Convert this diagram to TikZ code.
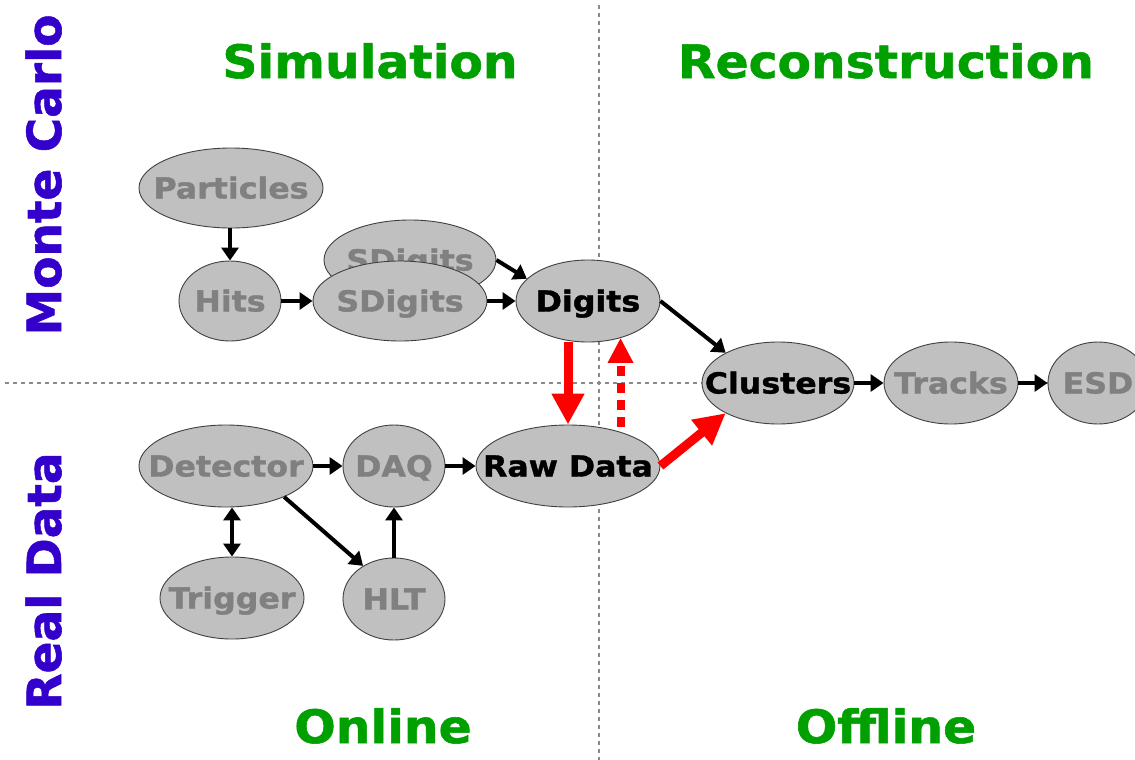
\documentclass[tikz,border=0pt]{standalone}
\usepackage{fontspec}
\setmainfont{DejaVu Sans}
\newfontfamily\heavyfont[BoldFeatures={FakeBold=1.2}]{DejaVu Sans}
\usetikzlibrary{shapes.geometric,arrows.meta}
\definecolor{ellfill}{HTML}{C0C0C0}
\definecolor{txtgrey}{HTML}{808080}
\definecolor{ttlgreen}{HTML}{00A000}
\definecolor{sideblue}{HTML}{3300CC}
\definecolor{arrred}{HTML}{FF0000}
\definecolor{sepgrey}{HTML}{8A8A8A}
\newcommand\nodetxt[1]{\makebox[0pt]{\scalebox{1.09}[1]{#1}}}
\newcommand\ttltxt[1]{\scalebox{1.06}[1]{#1}}
\tikzset{
  blob/.style={ellipse, draw=black!75, line width=0.9pt, fill=ellfill, inner sep=0pt,
    text height=21pt, text depth=0pt, font=\fontsize{29}{29}\selectfont\heavyfont\bfseries, text=txtgrey},
  hot/.style={text=black},
  flow/.style={draw=black, line width=4pt, -{Triangle[length=13pt,width=17pt]}},
  bothflow/.style={draw=black, line width=4pt, {Triangle[length=13pt,width=17pt]}-{Triangle[length=13pt,width=17pt]}},
  redflow/.style={draw=arrred, line width=9pt, -{Triangle[length=31pt,width=31pt]}},
  reddash/.style={draw=arrred, line width=8pt, dash pattern=on 10pt off 7pt, -{Triangle[length=25pt,width=24pt]}},
  sep/.style={draw=sepgrey, line width=1.3pt, dash pattern=on 4pt off 4pt},
  title/.style={font=\fontsize{46}{46}\selectfont\heavyfont\bfseries, text=ttlgreen, inner sep=0pt, anchor=base},
  side/.style={font=\fontsize{47}{47}\selectfont\heavyfont\bfseries, text=sideblue, inner sep=0pt, anchor=base, rotate=90},
}
\begin{document}
\begin{tikzpicture}[x=1pt,y=-1pt]
\useasboundingbox (0,0) rectangle (1135,760);
\clip (0,0) rectangle (1135,760);
\fill[white] (0,0) rectangle (1135,760);
% separators
\coordinate (vtop) at (599,5);
\coordinate (vbot) at (599,760);
\coordinate (hleft) at (5,383);
\coordinate (hright) at (1135,383);
\draw[sep] (vtop) -- (vbot);
\draw[sep] (hleft) -- (hright);
% titles
\node[title] (tsim) at (370,78) {\ttltxt{Simulation}};
\node[title] (trec) at (886,78) {\ttltxt{Reconstruction}};
\node[title] (tonl) at (383,743) {\ttltxt{Online}};
\node[title] (toff) at (886,743) {\ttltxt{Offline}};
\node[side] (tmc) at (61,175) {Monte Carlo};
\node[side] (trd) at (61,581) {Real Data};
% nodes
\node[blob, minimum width=184pt, minimum height=80pt] (par) at (231,188) {\nodetxt{Particles}};
\node[blob, minimum width=102pt, minimum height=80pt] (hit) at (230,301) {\nodetxt{Hits}};
\node[blob, minimum width=172pt, minimum height=80pt] (sdb) at (410,260) {\nodetxt{SDigits}};
\node[blob, minimum width=174pt, minimum height=80pt] (sdf) at (400,301) {\nodetxt{SDigits}};
\node[blob, hot, minimum width=144pt, minimum height=82pt] (dig) at (588,301) {\nodetxt{Digits}};
\node[blob, hot, minimum width=152pt, minimum height=82pt] (clu) at (778,383) {\nodetxt{Clusters}};
\node[blob, minimum width=134pt, minimum height=82pt] (trk) at (951,383) {\nodetxt{Tracks}};
\node[blob, minimum width=100pt, minimum height=82pt] (esd) at (1098,383) {\nodetxt{ESD}};
\node[blob, minimum width=174pt, minimum height=82pt] (det) at (226,466) {\nodetxt{Detector}};
\node[blob, minimum width=102pt, minimum height=82pt] (daq) at (394,466) {\nodetxt{DAQ}};
\node[blob, hot, minimum width=184pt, minimum height=82pt] (raw) at (568,466) {\nodetxt{Raw Data}};
\node[blob, minimum width=144pt, minimum height=82pt] (trg) at (232,598) {\nodetxt{Trigger}};
\node[blob, minimum width=102pt, minimum height=82pt] (hlt) at (394,599) {\nodetxt{HLT}};
% black connectors
\draw[flow] (par.south -| hit.north) -- (hit.north);
\draw[flow] (hit.east) -- (sdf.west);
\draw[flow] (sdb.east) -- (dig.160);
\draw[flow] (sdf.east) -- (dig.west);
\draw[flow] (dig.east) -- (clu.150);
\draw[flow] (clu.east) -- (trk.west);
\draw[flow] (trk.east) -- (esd.west);
\draw[flow] (det.east) -- (daq.west);
\draw[flow] (daq.east) -- (raw.west);
\draw[bothflow] (trg.north) -- (trg.north |- det.south);
\draw[flow] (det.-28) -- (hlt.133);
\draw[flow] (hlt.north) -- (daq.south);
% red connectors
\draw[redflow] (raw.north |- dig.south) -- (raw.north);
\draw[reddash, shorten <=5pt] (raw.33) -- (raw.33 |- dig.-48);
\draw[redflow] (raw.east) -- (clu.210);
\end{tikzpicture}
\end{document}
